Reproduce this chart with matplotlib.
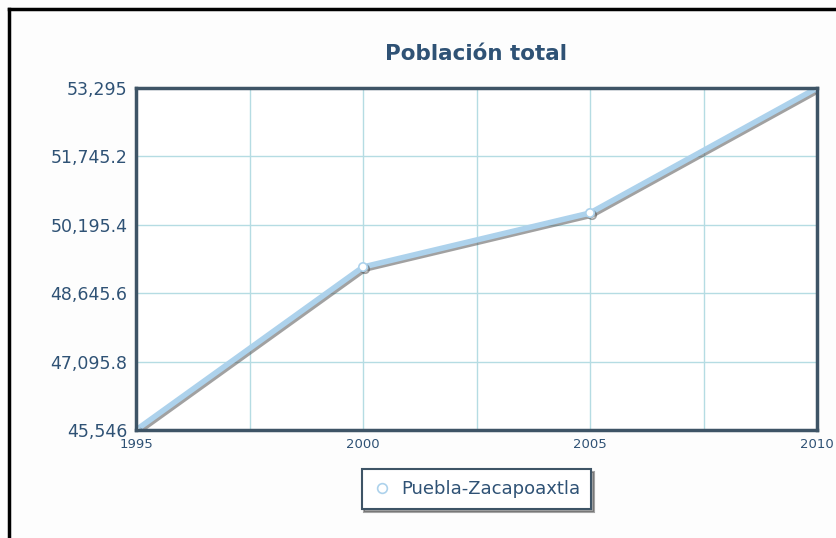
import matplotlib
matplotlib.use("Agg")
import matplotlib.pyplot as plt
import matplotlib.patheffects as pe
from matplotlib.lines import Line2D

# Population of Zacapoaxtla (Puebla) by census year
years = [1995, 2000, 2005, 2010]
population = [45546, 49239, 50463, 53295]
series_name = "Puebla-Zacapoaxtla"

y_ticks = [45546, 47095.8, 48645.6, 50195.4, 51745.2, 53295]
y_labels = ["45,546", "47,095.8", "48,645.6", "50,195.4", "51,745.2", "53,295"]
x_grid = [1997.5, 2000, 2002.5, 2005, 2007.5]

text_color = "#2f5275"
frame_color = "#3e5466"
grid_color = "#b5dce3"
line_color = "#add2ec"

fig = plt.figure(figsize=(8.36, 5.38), dpi=100)
fig.patch.set_facecolor("#fdfdfd")
ax = fig.add_axes([136 / 836, 108 / 538, 681 / 836, 342 / 538])
ax.set_facecolor("white")

ax.plot(years, population, color=line_color, lw=4, solid_capstyle="round",
        marker="o", ms=6, mfc="white", mec=line_color, mew=1.2, zorder=5,
        path_effects=[pe.SimpleLineShadow(offset=(1.5, -1.5), shadow_color="#555555", alpha=0.55),
                      pe.Normal()])

ax.set_xlim(1995, 2010)
ax.set_ylim(45546, 53295)
ax.set_xticks([1995, 2000, 2005, 2010])
ax.set_xticklabels([str(y) for y in [1995, 2000, 2005, 2010]])
ax.set_yticks(y_ticks)
ax.set_yticklabels(y_labels)
for x in x_grid:
    ax.axvline(x, color=grid_color, lw=1, zorder=1)
for y in y_ticks[1:-1]:
    ax.axhline(y, color=grid_color, lw=1, zorder=1)

ax.tick_params(axis="both", length=0, colors=text_color)
ax.tick_params(axis="y", labelsize=12.5, pad=6)
ax.tick_params(axis="x", labelsize=9.5, pad=6)
for s in ax.spines.values():
    s.set_color(frame_color)
    s.set_linewidth(2.5)
    s.set_zorder(6)

ax.set_title("Población total", fontsize=15.5, fontweight="bold", color=text_color, pad=20)

leg = ax.legend([Line2D([], [], ls="none", marker="o", ms=7, mfc="white", mec=line_color, mew=1.2)],
                [series_name], loc="upper center", bbox_to_anchor=(0.5, -0.115),
                frameon=True, fancybox=False, shadow=True, fontsize=13,
                handlelength=1, handletextpad=0.6, borderpad=0.6, borderaxespad=0)
leg.get_frame().set_edgecolor(frame_color)
leg.get_frame().set_linewidth(1.5)
for t in leg.get_texts():
    t.set_color(text_color)

# page border on the left and top
fig.add_artist(Line2D([9 / 836, 9 / 836], [0, 1 - 9 / 538], color="black", lw=2.5, transform=fig.transFigure))
fig.add_artist(Line2D([9 / 836, 1], [1 - 9 / 538, 1 - 9 / 538], color="black", lw=2.5, transform=fig.transFigure))

fig.savefig("out.png", dpi=100, facecolor=fig.get_facecolor())
